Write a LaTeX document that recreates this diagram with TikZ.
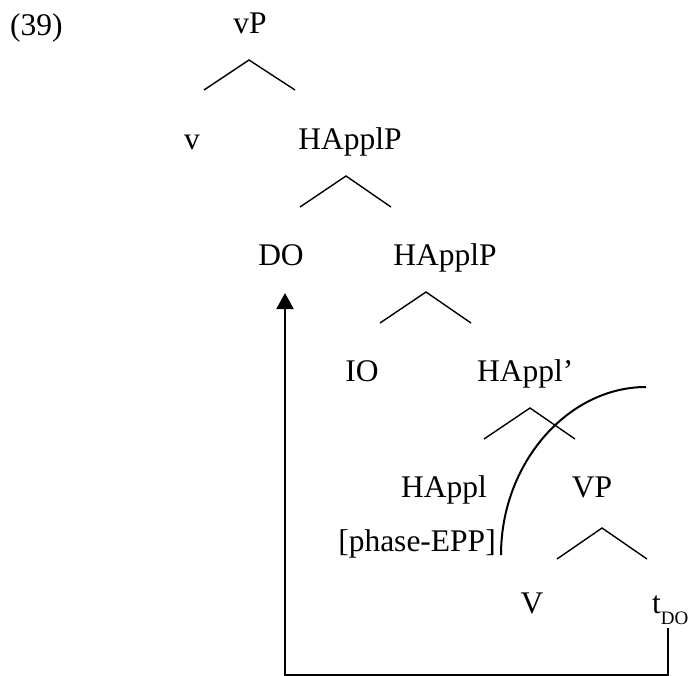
\documentclass[tikz,border=0pt]{standalone}
\usepackage{fontspec}
\setmainfont{Liberation Serif}
\usetikzlibrary{arrows.meta}
\begin{document}
\begin{tikzpicture}[x=1pt,y=-1pt,
  lab/.style={anchor=base,inner sep=0pt,font=\fontsize{31.5}{36}\selectfont},
  branch/.style={line width=1.4pt,line join=miter},
  move/.style={line width=2pt},
  phase/.style={line width=2pt}]
\useasboundingbox (0,0) rectangle (690,675);
% labels
\node[lab,anchor=base west] (ex) at (10,35) {(39)};
\node[lab] (vP) at (250,33) {vP};
\node[lab] (v) at (192,149) {v};
\node[lab] (HApplPa) at (350,149) {HApplP};
\node[lab] (DO) at (281,265) {DO};
\node[lab] (HApplPb) at (445,265) {HApplP};
\node[lab] (IO) at (362,381) {IO};
\node[lab,anchor=base west] (HApplbar) at (477,381) {HAppl’};
\node[lab] (HAppl) at (444,497) {HAppl};
\node[lab] (VP) at (592,497) {VP};
\node[lab] (EPP) at (417,551) {[phase-EPP]};
\node[lab] (V) at (532,613) {V};
\node[lab,anchor=base west] (tDO) at (652,613) {t\raisebox{-11pt}{\fontsize{19}{19}\selectfont DO}};
% branch coordinates
\coordinate (a1) at (249,60); \coordinate (l1) at (204,90); \coordinate (r1) at (295,90);
\coordinate (a2) at (346,176); \coordinate (l2) at (300,207); \coordinate (r2) at (391,207);
\coordinate (a3) at (426,292); \coordinate (l3) at (380,323); \coordinate (r3) at (471,323);
\coordinate (a4) at (530,408); \coordinate (l4) at (484,439); \coordinate (r4) at (575,439);
\coordinate (a5) at (602,528); \coordinate (l5) at (557,559); \coordinate (r5) at (647,559);
\draw[branch] (l1) -- (a1) -- (r1);
\draw[branch] (l2) -- (a2) -- (r2);
\draw[branch] (l3) -- (a3) -- (r3);
\draw[branch] (l4) -- (a4) -- (r4);
\draw[branch] (l5) -- (a5) -- (r5);
% phase boundary curve
\coordinate (cs) at (646,387);
\coordinate (ce) at (501,555);
\draw[phase] (cs) .. controls (568,387) and (501,463) .. (ce);
% movement arrow
\coordinate (tfoot) at (668,628);
\coordinate (br) at (668,675);
\coordinate (bl) at (285,675);
\coordinate (DOtip) at (285,293);
\draw[move,-{Triangle[width=17pt,length=16pt]}] (tfoot) -- (br) -- (bl) -- (DOtip);
\end{tikzpicture}
\end{document}
